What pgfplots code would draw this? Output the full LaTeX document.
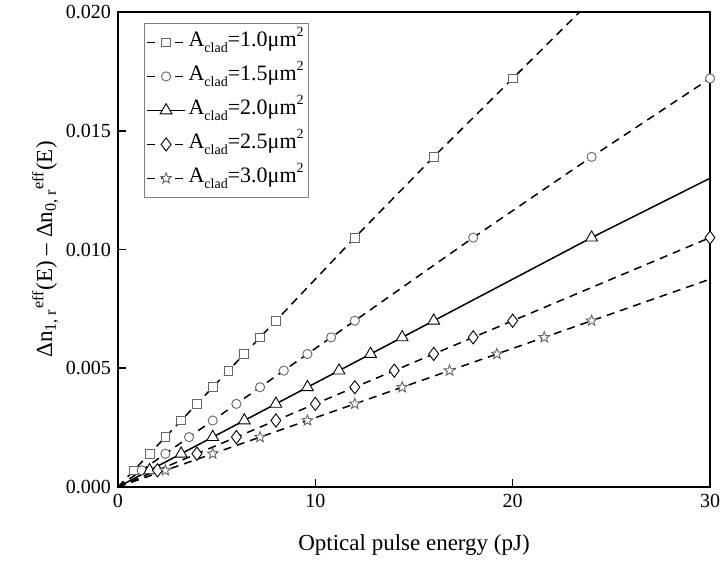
\documentclass[border=0pt]{standalone}
\usepackage{fontspec}
\setmainfont{Liberation Serif}
\usepackage{pgfplots}
\pgfplotsset{compat=1.18}

% open five-pointed star, as in the reference
\pgfdeclareplotmark{ostar}{%
  \pgfpathmoveto{\pgfpointpolar{90}{\pgfplotmarksize}}%
  \pgfpathlineto{\pgfpointpolar{126}{0.42\pgfplotmarksize}}%
  \pgfpathlineto{\pgfpointpolar{162}{\pgfplotmarksize}}%
  \pgfpathlineto{\pgfpointpolar{198}{0.42\pgfplotmarksize}}%
  \pgfpathlineto{\pgfpointpolar{234}{\pgfplotmarksize}}%
  \pgfpathlineto{\pgfpointpolar{270}{0.42\pgfplotmarksize}}%
  \pgfpathlineto{\pgfpointpolar{306}{\pgfplotmarksize}}%
  \pgfpathlineto{\pgfpointpolar{342}{0.42\pgfplotmarksize}}%
  \pgfpathlineto{\pgfpointpolar{18}{\pgfplotmarksize}}%
  \pgfpathlineto{\pgfpointpolar{54}{0.42\pgfplotmarksize}}%
  \pgfpathclose
  \pgfusepathqfillstroke
}

\newcommand\clad{\raisebox{-0.6ex}{\fontsize{7}{7}\selectfont clad}}
\newcommand\sq{\raisebox{0.95ex}{\fontsize{7}{7}\selectfont 2}}

\pgfplotsset{
  ddash/.style={line width=0.75pt, dash pattern=on 4pt off 3pt},
  mk/.style={mark options={solid, line width=0.45pt, fill=white, draw=#1}},
}

\begin{document}
\begin{tikzpicture}
\useasboundingbox (-59pt,-37pt) rectangle (301.5pt,243.5pt);
\begin{axis}[
    at={(0,0)}, anchor=south west,
    scale only axis,
    width=296pt, height=237.5pt,
    xmin=0, xmax=30,
    ymin=0, ymax=0.020,
    xtick={0,10,20,30},
    ytick={0,0.005,0.010,0.015,0.020},
    scaled y ticks=false,
    yticklabel style={/pgf/number format/.cd, fixed, fixed zerofill, precision=3},
    /pgf/number format/assume math mode=true,
    xtick pos=bottom, ytick pos=left,
    tick align=inside,
    major tick length=4pt,
    minor tick num=0,
    tick style={line width=0.8pt, black},
    axis line style={line width=1pt},
    ticklabel style={font=\rmfamily\fontsize{10}{12}\selectfont},
    label style={font=\rmfamily\fontsize{11.5}{13}\selectfont},
    xlabel={Optical pulse energy (pJ)},
    ylabel={Δn\textsubscript{1, r}\textsuperscript{eff}(E) – Δn\textsubscript{0, r}\textsuperscript{eff}(E)},
    xlabel style={at={(axis description cs:0.5,-0.122)}, anchor=center},
    ylabel style={at={(axis description cs:-0.123,0.5)}, anchor=center},
    legend cell align=left,
    legend style={
        at={(0.044,0.977)}, anchor=north west,
        draw=gray, line width=0.5pt,
        font=\rmfamily\fontsize{11}{12}\selectfont,
        row sep=0pt, inner sep=1pt,
        nodes={text height=9pt, text depth=5pt, inner sep=1.5pt},
    },
    legend image code/.code={
        \draw[mark repeat=2, mark phase=2, #1]
            plot coordinates {(0cm,0cm) (0.33cm,0cm) (0.66cm,0cm)};
    },
]

% A = 1.0
\addplot[ddash, forget plot] coordinates {
(0,0) (0.8,0.0007) (1.6,0.0014) (2.4,0.0021) (3.2,0.0028) (4.0,0.0035)
(4.8,0.0042) (5.6,0.0049) (6.4,0.0056) (7.2,0.0063) (8.0,0.0070)
(12,0.0105) (16,0.0139) (20,0.0172) (24,0.0205)
};
\addplot[only marks, mark=square*, mark size=2.2pt, mk=gray!80!black, forget plot] coordinates {
(0.8,0.0007) (1.6,0.0014) (2.4,0.0021) (3.2,0.0028) (4.0,0.0035)
(4.8,0.0042) (5.6,0.0049) (6.4,0.0056) (7.2,0.0063) (8.0,0.0070)
(12,0.0105) (16,0.0139) (20,0.0172)
};

% A = 1.5
\addplot[ddash, forget plot] coordinates {
(0,0) (1.2,0.0007) (2.4,0.0014) (3.6,0.0021) (4.8,0.0028) (6.0,0.0035)
(7.2,0.0042) (8.4,0.0049) (9.6,0.0056) (10.8,0.0063) (12,0.0070)
(18,0.0105) (24,0.0139) (30,0.0172)
};
\addplot[only marks, mark=*, mark size=2.3pt, mk=gray!80!black, forget plot] coordinates {
(1.2,0.0007) (2.4,0.0014) (3.6,0.0021) (4.8,0.0028) (6.0,0.0035)
(7.2,0.0042) (8.4,0.0049) (9.6,0.0056) (10.8,0.0063) (12,0.0070)
(18,0.0105) (24,0.0139) (30,0.0172)
};

% A = 2.0
\addplot[line width=0.75pt, forget plot] coordinates {
(0,0) (1.6,0.0007) (3.2,0.0014) (4.8,0.0021) (6.4,0.0028) (8.0,0.0035)
(9.6,0.0042) (11.2,0.0049) (12.8,0.0056) (14.4,0.0063) (16,0.0070)
(24,0.0105) (30,0.0130)
};
\addplot[only marks, mark=triangle*, mark size=3.4pt, mk=black, forget plot] coordinates {
(1.6,0.0007) (3.2,0.0014) (4.8,0.0021) (6.4,0.0028) (8.0,0.0035)
(9.6,0.0042) (11.2,0.0049) (12.8,0.0056) (14.4,0.0063) (16,0.0070)
(24,0.0105)
};

% A = 2.5
\addplot[ddash, forget plot] coordinates {
(0,0) (2,0.0007) (4,0.0014) (6,0.0021) (8,0.0028) (10,0.0035)
(12,0.0042) (14,0.0049) (16,0.0056) (18,0.0063) (20,0.0070)
(30,0.0105)
};
\addplot[only marks, mark=diamond*, mark size=3.3pt, mk=black, forget plot] coordinates {
(2,0.0007) (4,0.0014) (6,0.0021) (8,0.0028) (10,0.0035)
(12,0.0042) (14,0.0049) (16,0.0056) (18,0.0063) (20,0.0070)
(30,0.0105)
};

% A = 3.0
\addplot[ddash, forget plot] coordinates {
(0,0) (2.4,0.0007) (4.8,0.0014) (7.2,0.0021) (9.6,0.0028) (12,0.0035)
(14.4,0.0042) (16.8,0.0049) (19.2,0.0056) (21.6,0.0063) (24,0.0070)
(30,0.00875)
};
\addplot[only marks, mark=ostar, mark size=2.8pt, mk=gray!80!black, forget plot] coordinates {
(2.4,0.0007) (4.8,0.0014) (7.2,0.0021) (9.6,0.0028) (12,0.0035)
(14.4,0.0042) (16.8,0.0049) (19.2,0.0056) (21.6,0.0063) (24,0.0070)
};

\addlegendimage{ddash, mark=square*, mark size=2.2pt, mk=gray!80!black}
\addlegendentry{A\clad=1.0μm\sq}
\addlegendimage{ddash, mark=*, mark size=2.3pt, mk=gray!80!black}
\addlegendentry{A\clad=1.5μm\sq}
\addlegendimage{line width=0.75pt, mark=triangle*, mark size=3.4pt, mk=black}
\addlegendentry{A\clad=2.0μm\sq}
\addlegendimage{ddash, mark=diamond*, mark size=3.3pt, mk=black}
\addlegendentry{A\clad=2.5μm\sq}
\addlegendimage{ddash, mark=ostar, mark size=2.8pt, mk=gray!80!black}
\addlegendentry{A\clad=3.0μm\sq}

\end{axis}
\end{tikzpicture}
\end{document}
